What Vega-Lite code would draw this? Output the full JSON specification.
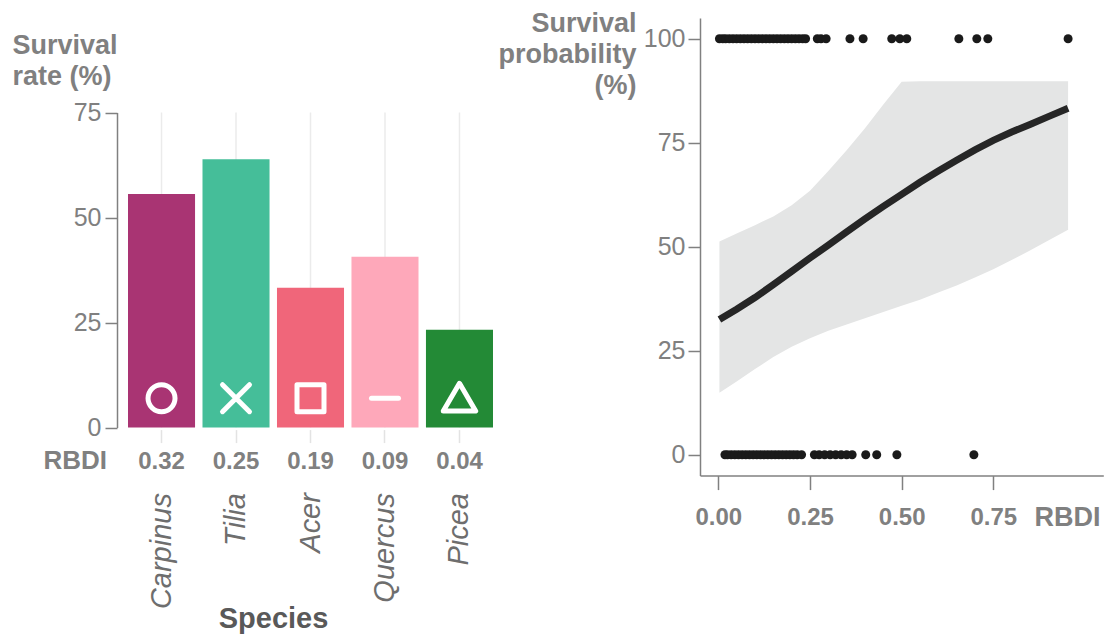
{
  "$schema": "https://vega.github.io/schema/vega-lite/v6.json",
  "background": "white",
  "padding": {"left": 12, "top": 10, "right": 0, "bottom": 0},
  "spacing": 4,
  "config": {"view": {"stroke": null}, "font": "Liberation Sans"},
  "datasets": {
    "bars": [
      {"species": "Carpinus", "rate": 55.6, "rbdi": "0.32"},
      {"species": "Tilia", "rate": 63.9, "rbdi": "0.25"},
      {"species": "Acer", "rate": 33.3, "rbdi": "0.19"},
      {"species": "Quercus", "rate": 40.7, "rbdi": "0.09"},
      {"species": "Picea", "rate": 23.3, "rbdi": "0.04"}
    ],
    "points": [
      {"rbdi": 0.003, "survival": 100}, {"rbdi": 0.012, "survival": 100}, {"rbdi": 0.02, "survival": 100},
      {"rbdi": 0.03, "survival": 100}, {"rbdi": 0.04, "survival": 100}, {"rbdi": 0.05, "survival": 100},
      {"rbdi": 0.06, "survival": 100}, {"rbdi": 0.07, "survival": 100}, {"rbdi": 0.08, "survival": 100},
      {"rbdi": 0.09, "survival": 100}, {"rbdi": 0.1, "survival": 100}, {"rbdi": 0.11, "survival": 100},
      {"rbdi": 0.12, "survival": 100}, {"rbdi": 0.13, "survival": 100}, {"rbdi": 0.14, "survival": 100},
      {"rbdi": 0.15, "survival": 100}, {"rbdi": 0.16, "survival": 100}, {"rbdi": 0.17, "survival": 100},
      {"rbdi": 0.18, "survival": 100}, {"rbdi": 0.19, "survival": 100}, {"rbdi": 0.2, "survival": 100},
      {"rbdi": 0.21, "survival": 100}, {"rbdi": 0.22, "survival": 100}, {"rbdi": 0.23, "survival": 100},
      {"rbdi": 0.238, "survival": 100}, {"rbdi": 0.27, "survival": 100}, {"rbdi": 0.28, "survival": 100},
      {"rbdi": 0.294, "survival": 100}, {"rbdi": 0.359, "survival": 100}, {"rbdi": 0.395, "survival": 100},
      {"rbdi": 0.473, "survival": 100}, {"rbdi": 0.495, "survival": 100}, {"rbdi": 0.514, "survival": 100},
      {"rbdi": 0.656, "survival": 100}, {"rbdi": 0.705, "survival": 100}, {"rbdi": 0.735, "survival": 100},
      {"rbdi": 0.954, "survival": 100},
      {"rbdi": 0.018, "survival": 0}, {"rbdi": 0.025, "survival": 0}, {"rbdi": 0.035, "survival": 0},
      {"rbdi": 0.045, "survival": 0}, {"rbdi": 0.055, "survival": 0}, {"rbdi": 0.065, "survival": 0},
      {"rbdi": 0.075, "survival": 0}, {"rbdi": 0.085, "survival": 0}, {"rbdi": 0.095, "survival": 0},
      {"rbdi": 0.105, "survival": 0}, {"rbdi": 0.115, "survival": 0}, {"rbdi": 0.125, "survival": 0},
      {"rbdi": 0.135, "survival": 0}, {"rbdi": 0.145, "survival": 0}, {"rbdi": 0.155, "survival": 0},
      {"rbdi": 0.165, "survival": 0}, {"rbdi": 0.175, "survival": 0}, {"rbdi": 0.185, "survival": 0},
      {"rbdi": 0.195, "survival": 0}, {"rbdi": 0.205, "survival": 0}, {"rbdi": 0.215, "survival": 0},
      {"rbdi": 0.227, "survival": 0}, {"rbdi": 0.262, "survival": 0}, {"rbdi": 0.275, "survival": 0},
      {"rbdi": 0.29, "survival": 0}, {"rbdi": 0.305, "survival": 0}, {"rbdi": 0.32, "survival": 0},
      {"rbdi": 0.335, "survival": 0}, {"rbdi": 0.35, "survival": 0}, {"rbdi": 0.365, "survival": 0},
      {"rbdi": 0.402, "survival": 0}, {"rbdi": 0.432, "survival": 0}, {"rbdi": 0.487, "survival": 0},
      {"rbdi": 0.697, "survival": 0}
    ],
    "fit": [
      {"x": 0.003, "fit": 32.5, "lower": 14.9, "upper": 51.3},
      {"x": 0.05, "fit": 35.0, "lower": 17.6, "upper": 53.2},
      {"x": 0.1, "fit": 37.8, "lower": 20.6, "upper": 55.2},
      {"x": 0.15, "fit": 40.9, "lower": 23.5, "upper": 57.3},
      {"x": 0.2, "fit": 44.1, "lower": 26.0, "upper": 60.0},
      {"x": 0.25, "fit": 47.3, "lower": 28.0, "upper": 63.5},
      {"x": 0.3, "fit": 50.4, "lower": 29.8, "upper": 68.2},
      {"x": 0.35, "fit": 53.6, "lower": 31.3, "upper": 73.2},
      {"x": 0.4, "fit": 56.7, "lower": 32.8, "upper": 78.5},
      {"x": 0.45, "fit": 59.7, "lower": 34.3, "upper": 84.2},
      {"x": 0.5, "fit": 62.6, "lower": 35.8, "upper": 89.7},
      {"x": 0.55, "fit": 65.5, "lower": 37.3, "upper": 89.8},
      {"x": 0.6, "fit": 68.2, "lower": 39.0, "upper": 89.8},
      {"x": 0.65, "fit": 70.8, "lower": 40.7, "upper": 89.8},
      {"x": 0.7, "fit": 73.3, "lower": 42.6, "upper": 89.8},
      {"x": 0.75, "fit": 75.6, "lower": 44.6, "upper": 89.8},
      {"x": 0.8, "fit": 77.6, "lower": 46.8, "upper": 89.8},
      {"x": 0.85, "fit": 79.4, "lower": 49.1, "upper": 89.8},
      {"x": 0.9, "fit": 81.3, "lower": 51.5, "upper": 89.8},
      {"x": 0.954, "fit": 83.3, "lower": 54.1, "upper": 89.8}
    ]
  },
  "hconcat": [
    {
      "width": 365,
      "height": 457.6,
      "data": {"name": "bars"},
      "resolve": {"axis": {"x": "independent"}},
      "layer": [
        {
          "mark": {"type": "rule", "color": "#ebebeb", "strokeWidth": 1.5},
          "encoding": {
            "x": {
              "field": "species", "type": "nominal", "sort": null,
              "scale": {"paddingInner": 0.1, "paddingOuter": 0},
              "axis": {
                "orient": "bottom", "offset": -46, "domain": false, "grid": false,
                "ticks": true, "tickSize": 13, "tickColor": "#e3e3e3", "tickWidth": 1.5,
                "labelAngle": -90, "labelAlign": "right", "labelBaseline": "middle",
                "labelFontStyle": "italic", "labelFontSize": 29, "labelColor": "#6e6e6e",
                "labelPadding": 50,
                "title": "Species", "titleFontSize": 29, "titleFontWeight": "bold",
                "titleColor": "#595959", "titleX": 145, "titleY": 198,
                "titleAlign": "center", "titleBaseline": "alphabetic"
              }
            },
            "y": {
              "datum": 0, "type": "quantitative",
              "scale": {"domain": [0, 75], "range": [409.6, 94.6], "nice": false, "zero": false},
              "axis": {
                "values": [0, 25, 50, 75], "offset": 11, "grid": false,
                "domainColor": "#808080", "domainWidth": 1.5,
                "tickSize": 12, "tickColor": "#808080", "tickWidth": 1.5,
                "labelFontSize": 25, "labelColor": "#808080", "labelPadding": 4,
                "title": ["Survival", "rate (%)"], "titleAngle": 0, "titleAlign": "left",
                "titleBaseline": "top", "titleX": -105, "titleY": 15,
                "titleFontSize": 27, "titleFontWeight": "bold", "titleColor": "#808080",
                "titleLineHeight": 31
              }
            },
            "y2": {"datum": 75}
          }
        },
        {
          "mark": {"type": "bar"},
          "encoding": {
            "x": {"field": "species", "type": "nominal", "sort": null, "axis": null},
            "y": {"field": "rate", "type": "quantitative"},
            "color": {
              "field": "species", "type": "nominal", "legend": null,
              "scale": {
                "domain": ["Carpinus", "Tilia", "Acer", "Quercus", "Picea"],
                "range": ["#A93473", "#45BE99", "#F0667A", "#FEA8BA", "#238A36"]
              }
            }
          }
        },
        {
          "mark": {"type": "point", "filled": false, "color": "white", "strokeWidth": 5, "strokeJoin": "round", "strokeCap": "round", "size": 729, "opacity": 1},
          "encoding": {
            "x": {"field": "species", "type": "nominal", "sort": null, "axis": null},
            "y": {"datum": 7, "type": "quantitative"},
            "shape": {
              "field": "species", "type": "nominal", "legend": null,
              "scale": {
                "domain": ["Carpinus", "Tilia", "Acer", "Quercus", "Picea"],
                "range": ["circle", "M-1,-1L1,1M1,-1L-1,1", "square", "M-1,0L1,0", "M0,-1.1L1.2,0.95L-1.2,0.95Z"]
              }
            }
          }
        },
        {
          "mark": {"type": "text", "fontSize": 24, "fontWeight": "bold", "color": "#808080", "baseline": "alphabetic", "dy": 41},
          "encoding": {
            "x": {
              "field": "species", "type": "nominal", "sort": null,
              "axis": {
                "orient": "bottom", "offset": -46, "labels": false, "ticks": false,
                "domain": false, "grid": false,
                "title": "RBDI", "titleX": -85, "titleY": 39, "titleAlign": "left",
                "titleBaseline": "alphabetic", "titleFontSize": 26, "titleFontWeight": "bold",
                "titleColor": "#808080"
              }
            },
            "y": {"datum": 0, "type": "quantitative"},
            "text": {"field": "rbdi"}
          }
        }
      ]
    },
    {
      "width": 403.3,
      "height": 457.6,
      "layer": [
        {
          "data": {"name": "fit"},
          "mark": {"type": "area", "color": "#e4e5e5", "opacity": 1},
          "encoding": {
            "x": {
              "field": "x", "type": "quantitative",
              "scale": {"domain": [-0.05, 1.05], "nice": false, "zero": false},
              "axis": {
                "values": [0, 0.25, 0.5, 0.75], "format": ".2f", "grid": false,
                "domainColor": "#808080", "domainWidth": 1.5,
                "tickSize": 14, "tickColor": "#808080", "tickWidth": 1.5,
                "labelFontSize": 24, "labelFontWeight": "bold", "labelColor": "#808080",
                "labelPadding": 16,
                "title": "RBDI", "titleX": 400, "titleY": 50, "titleAlign": "right",
                "titleBaseline": "alphabetic", "titleFontSize": 27, "titleFontWeight": "bold",
                "titleColor": "#808080"
              }
            },
            "y": {
              "field": "lower", "type": "quantitative",
              "scale": {"domain": [-5, 105], "nice": false, "zero": false},
              "axis": {
                "values": [0, 25, 50, 75, 100], "grid": false,
                "domainColor": "#808080", "domainWidth": 1.5,
                "tickSize": 12, "tickColor": "#808080", "tickWidth": 1.5,
                "labelFontSize": 25, "labelColor": "#808080", "labelPadding": 3,
                "title": ["Survival", "probability", "(%)"], "titleAngle": 0,
                "titleAlign": "right", "titleBaseline": "top", "titleX": -64, "titleY": -7,
                "titleFontSize": 27, "titleFontWeight": "bold", "titleColor": "#808080",
                "titleLineHeight": 31
              }
            },
            "y2": {"field": "upper"}
          }
        },
        {
          "data": {"name": "fit"},
          "mark": {"type": "line", "color": "#262626", "strokeWidth": 7},
          "encoding": {
            "x": {"field": "x", "type": "quantitative"},
            "y": {"field": "fit", "type": "quantitative"}
          }
        },
        {
          "data": {"name": "points"},
          "mark": {"type": "circle", "color": "#1a1a1a", "size": 81, "opacity": 1},
          "encoding": {
            "x": {"field": "rbdi", "type": "quantitative"},
            "y": {"field": "survival", "type": "quantitative"}
          }
        }
      ]
    }
  ]
}
